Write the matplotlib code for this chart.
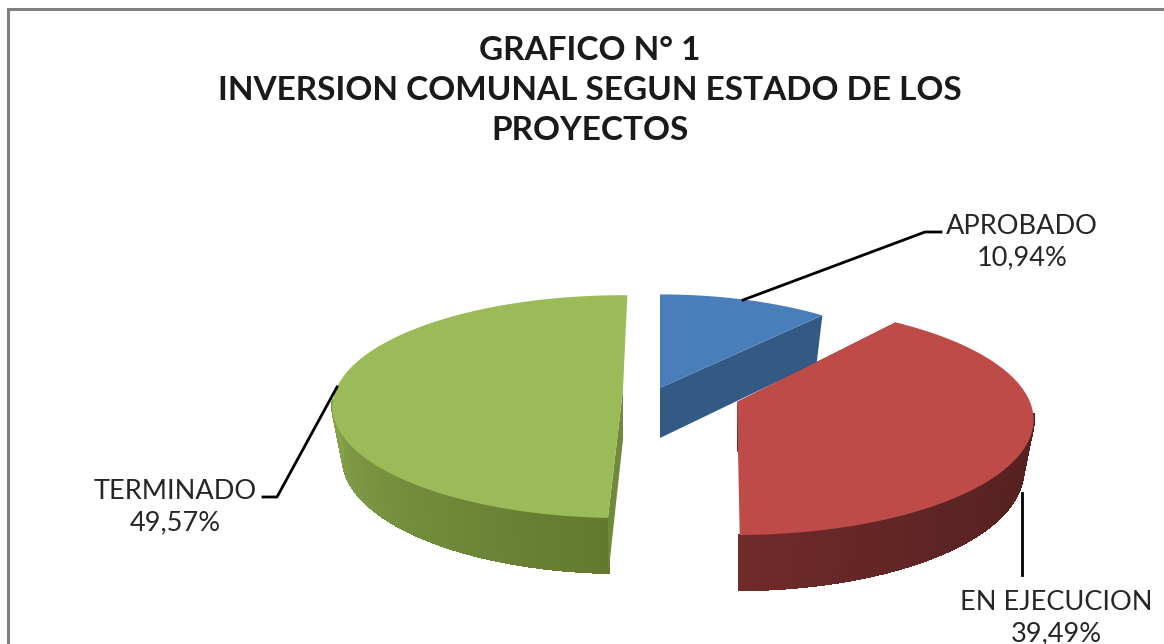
import numpy as np
import matplotlib
matplotlib.use("Agg")
import matplotlib.pyplot as plt
from matplotlib.collections import PolyCollection
from matplotlib.colors import to_rgb

titulo = "GRAFICO N° 1\nINVERSION COMUNAL SEGUN ESTADO DE LOS\nPROYECTOS"
estados = ["APROBADO", "EN EJECUCION", "TERMINADO"]
porcentajes = [10.94, 39.49, 49.57]

# cada tajada va separada y con su propia perspectiva (en pixeles de la imagen)
vertice_x = [660, 737, 623]
vertice_y = [388, 402, 389.5]
radio_x = [274, 293, 287]
radio_y = [108, 112.5, 108.8]
giro = [2.0, -2.0, 1.0]
persp = 0.154
alto = 50
color_tapa = ["#4a7ebb", "#be4b48", "#9bbb59"]
color_corte = ["#335a85", "#5e2220", "#6f8a3a"]
color_borde_ini = ["#335a85", "#52201f", "#62792f"]
color_borde_fin = ["#335a85", "#702b2a", "#93b054"]


def anillo(i, ang, abajo=False):
    t = np.radians(ang)
    w = 1 + persp * np.cos(t)
    if abajo:
        ax_, by_ = radio_x[i] * 0.965, radio_y[i] * 1.037
        y0 = vertice_y[i] + alto
    else:
        ax_, by_ = radio_x[i], radio_y[i]
        y0 = vertice_y[i]
    return vertice_x[i] + ax_ * np.sin(t) / w, y0 - by_ * np.cos(t) / w


fig = plt.figure(figsize=(11.64, 6.44), dpi=100)
ax = fig.add_axes([0, 0, 1, 1])
ax.set_xlim(0, 1164)
ax.set_ylim(644, 0)
ax.axis("off")

# borde del grafico
ax.plot([8, 8, 1164], [644, 9, 9], color="#808080", lw=2.2, solid_joinstyle="miter")

fin = np.cumsum(porcentajes) / 100 * 360
ini = np.concatenate([[0], fin[:-1]])

for i in [2, 0, 1]:
    ang = np.linspace(ini[i], fin[i], 241)
    if i == 0:
        # la primera tajada parte justo arriba, solo se corre su final
        ang = np.linspace(ini[i], fin[i] + giro[i], 241)
    else:
        ang = ang + giro[i]
    x, y = anillo(i, ang)
    xb, yb = anillo(i, ang, abajo=True)

    # pared curva con degradado, solo la mitad que se ve de frente
    if i != 0:
        quads = []
        colores = []
        c0 = np.array(to_rgb(color_borde_fin[i]))
        c1 = np.array(to_rgb(color_borde_ini[i]))
        for j in range(len(ang) - 1):
            if np.cos(np.radians(ang[j])) > -0.1:
                continue
            quads.append([(x[j], y[j]), (x[j + 1], y[j + 1]), (xb[j + 1], yb[j + 1]), (xb[j], yb[j])])
            if i == 1:
                f = j / (len(ang) - 2)
                colores.append(c1 + (c0 - c1) * f ** 3)
            else:
                f = (ang[j] - ang[0]) / 110
                colores.append(c1 + (c0 - c1) * min(f, 1))
        ax.add_collection(PolyCollection(quads, facecolors=colores, edgecolors=colores,
                                         linewidths=1.2, antialiaseds=False))

    # cara del corte
    k = -1 if i == 0 else 0
    ax.fill([vertice_x[i], x[k], xb[k], vertice_x[i]],
            [vertice_y[i], y[k], yb[k], vertice_y[i] + alto], color=color_corte[i], lw=0)

    ax.fill(np.r_[vertice_x[i], x], np.r_[vertice_y[i], y], color=color_tapa[i], lw=0)

# lineas guia
ax.plot([743, 925, 941], [300, 232, 232], color="black", lw=2)
ax.plot([1022, 1022], [493, 575], color="black", lw=2)
ax.plot([337, 277, 263], [387, 497, 497], color="black", lw=2)

fuente = ["Lato", "DejaVu Sans"]
ax.text(590, 90.5, titulo, ha="center", va="center", family=fuente, fontweight="bold",
        fontsize=24, color="#1a1a1a", linespacing=1.45)

pos_x = [1022, 1056, 175]
pos_y = [242.5, 618, 507]
for i in range(3):
    txt = estados[i] + "\n" + f"{porcentajes[i]:.2f}".replace(".", ",") + "%"
    ax.text(pos_x[i], pos_y[i], txt, ha="center", va="center", family=fuente,
            fontsize=19.5, color="#262626", linespacing=1.32)

fig.savefig("out.png", dpi=100)
